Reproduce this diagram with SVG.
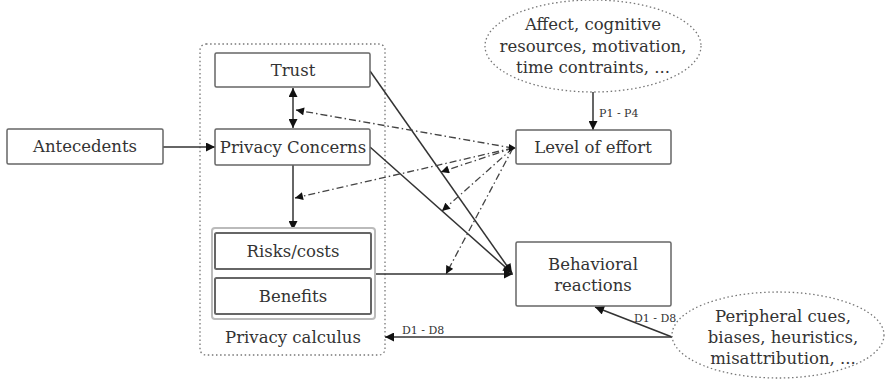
<svg xmlns="http://www.w3.org/2000/svg" width="886" height="385" viewBox="0 0 886 385">
<defs>
<style>
.box{fill:#fff;stroke:#666;stroke-width:1.5}
.ibox{fill:#fff;stroke:#666;stroke-width:2}
.dot{fill:none;stroke:#777;stroke-width:1.3;stroke-dasharray:1.5,2.6}
.t{font-family:"DejaVu Serif","Liberation Serif",serif;font-size:16.5px;fill:#333;text-anchor:middle}
.s{font-family:"DejaVu Serif","Liberation Serif",serif;font-size:11px;fill:#333}
.ln{fill:none;stroke:#333;stroke-width:1.5}
.dd{fill:none;stroke:#444;stroke-width:1.3;stroke-dasharray:7,3,1.5,3}
</style>
<marker id="ah" viewBox="0 0 10 10" refX="10" refY="5" markerWidth="10" markerHeight="9" markerUnits="userSpaceOnUse" orient="auto-start-reverse">
<path d="M0,0 L10,5 L0,10 z" fill="#111"/>
</marker>
<marker id="ahs" viewBox="0 0 10 10" refX="10" refY="5" markerWidth="9" markerHeight="8" markerUnits="userSpaceOnUse" orient="auto-start-reverse">
<path d="M0,0 L10,5 L0,10 z" fill="#111"/>
</marker>
</defs>
<rect width="886" height="385" fill="#fff"/>

<g id="privacy-calculus-group">
<rect class="dot" x="200" y="44" width="185" height="311" rx="6"/>
<text class="t" x="293" y="343">Privacy calculus</text>
</g>

<g id="connectors">
<line class="ln" x1="163" y1="147" x2="215" y2="147" marker-end="url(#ah)"/>
<line class="ln" x1="293" y1="88" x2="293" y2="128" marker-start="url(#ah)" marker-end="url(#ah)"/>
<line class="ln" x1="293" y1="165" x2="293" y2="230" marker-end="url(#ah)"/>
<line class="ln" x1="370" y1="71" x2="512" y2="273" marker-end="url(#ah)"/>
<line class="ln" x1="370" y1="147" x2="512" y2="273" marker-end="url(#ah)"/>
<line class="ln" x1="375" y1="274" x2="513" y2="274" marker-end="url(#ah)"/>
<line class="ln" x1="593" y1="92" x2="593" y2="130" marker-end="url(#ah)"/>
<line class="ln" x1="672" y1="337" x2="385" y2="337" marker-end="url(#ah)"/>
<line class="ln" x1="672" y1="337" x2="595" y2="307" marker-end="url(#ah)"/>
<line class="dd" x1="513" y1="148" x2="296" y2="110" marker-end="url(#ahs)"/>
<line class="dd" x1="513" y1="148" x2="295" y2="198" marker-end="url(#ahs)"/>
<line class="dd" x1="513" y1="148" x2="441" y2="172" marker-end="url(#ahs)"/>
<line class="dd" x1="513" y1="148" x2="442" y2="211" marker-end="url(#ahs)"/>
<line class="dd" x1="513" y1="148" x2="446" y2="274" marker-end="url(#ahs)"/>
<path d="M509,144 L516,148 L509,152 z" fill="#111"/>
<text class="s" x="599" y="117">P1 - P4</text>
<text class="s" x="402" y="334">D1 - D8</text>
<text class="s" x="634" y="322">D1 - D8</text>
</g>

<g id="antecedents">
<rect class="box" x="7" y="129" width="156" height="35" rx="1.5"/>
<text class="t" x="85" y="152">Antecedents</text>
</g>

<g id="trust">
<rect class="box" x="215" y="53" width="155" height="34" rx="1.5"/>
<text class="t" x="293" y="76">Trust</text>
</g>

<g id="privacy-concerns">
<rect class="box" x="215" y="129" width="155" height="36" rx="1.5"/>
<text class="t" x="293" y="153">Privacy Concerns</text>
</g>

<g id="calculus-inner">
<rect x="212" y="228" width="163" height="91" rx="3" fill="#fff" stroke="#bbb" stroke-width="2"/>
</g>

<g id="risks">
<rect class="ibox" x="215" y="233" width="156" height="36" rx="1.5"/>
<text class="t" x="293" y="257">Risks/costs</text>
</g>

<g id="benefits">
<rect class="ibox" x="215" y="278" width="156" height="36" rx="1.5"/>
<text class="t" x="293" y="302">Benefits</text>
</g>

<g id="level-of-effort">
<rect class="box" x="516" y="130" width="155" height="34" rx="1.5"/>
<text class="t" x="593" y="153">Level of effort</text>
</g>

<g id="behavioral-reactions">
<rect class="box" x="516" y="242" width="155" height="64" rx="1.5"/>
<text class="t" x="593" y="270">Behavioral</text>
<text class="t" x="593" y="291">reactions</text>
</g>

<g id="affect">
<ellipse class="dot" cx="593" cy="46" rx="108" ry="46"/>
<text class="t" x="593" y="30">Affect, cognitive</text>
<text class="t" x="593" y="52">resources, motivation,</text>
<text class="t" x="593" y="73">time contraints, ...</text>
</g>

<g id="peripheral">
<ellipse class="dot" cx="778" cy="335" rx="106" ry="43"/>
<text class="t" x="783" y="322">Peripheral cues,</text>
<text class="t" x="783" y="343">biases, heuristics,</text>
<text class="t" x="783" y="364">misattribution, ...</text>
</g>
</svg>
